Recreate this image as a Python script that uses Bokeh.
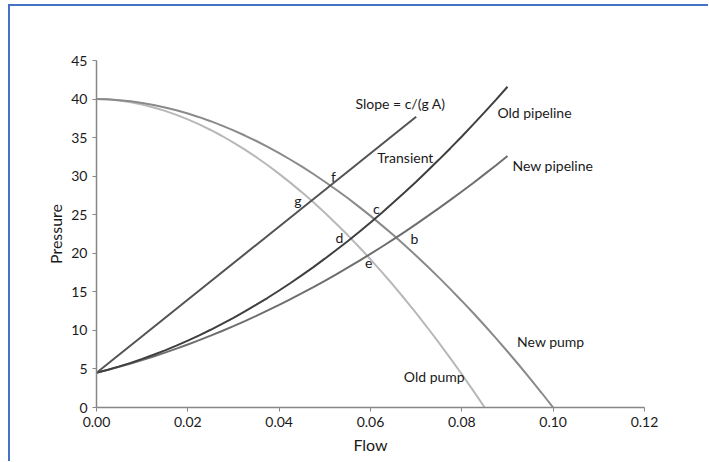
from bokeh.plotting import figure
from bokeh.models import Range1d, FixedTicker, NumeralTickFormatter, Label
from bokeh.embed import file_html
from bokeh.resources import INLINE

# ---- data ----
new_pump_flow = [0.0000, 0.0025, 0.0050, 0.0075, 0.0100, 0.0125, 0.0150, 0.0175, 0.0200, 0.0225,
                 0.0250, 0.0275, 0.0300, 0.0325, 0.0350, 0.0375, 0.0400, 0.0425, 0.0450, 0.0475,
                 0.0500, 0.0525, 0.0550, 0.0575, 0.0600, 0.0625, 0.0650, 0.0675, 0.0700, 0.0725,
                 0.0750, 0.0775, 0.0800, 0.0825, 0.0850, 0.0875, 0.0900, 0.0925, 0.0950, 0.0975,
                 0.1000]
new_pump = [40.00, 39.96, 39.86, 39.71, 39.50, 39.23, 38.91, 38.54, 38.12, 37.65,
            37.13, 36.56, 35.94, 35.27, 34.56, 33.79, 32.99, 32.13, 31.23, 30.28,
            29.28, 28.24, 27.16, 26.02, 24.85, 23.62, 22.36, 21.04, 19.69, 18.29,
            16.84, 15.35, 13.82, 12.25, 10.63, 8.96, 7.26, 5.51, 3.72, 1.88,
            0.00]

old_pump_flow = new_pump_flow[:35]
old_pump = [40.00, 39.95, 39.81, 39.58, 39.28, 38.91, 38.47, 37.95, 37.37, 36.71,
            35.99, 35.21, 34.35, 33.44, 32.46, 31.41, 30.30, 29.13, 27.90, 26.61,
            25.25, 23.83, 22.36, 20.82, 19.22, 17.56, 15.85, 14.07, 12.24, 10.34,
            8.39, 6.38, 4.31, 2.19, 0.00]

pipe_flow = new_pump_flow[:37]
old_pipeline = [4.50, 4.89, 5.33, 5.79, 6.30, 6.84, 7.41, 8.02, 8.67, 9.36,
                10.08, 10.84, 11.63, 12.46, 13.33, 14.23, 15.17, 16.15, 17.16, 18.21,
                19.30, 20.42, 21.57, 22.77, 24.00, 25.27, 26.57, 27.91, 29.28, 30.70,
                32.15, 33.63, 35.15, 36.71, 38.30, 39.93, 41.60]
new_pipeline = [4.50, 4.88, 5.28, 5.70, 6.15, 6.62, 7.11, 7.63, 8.17, 8.73,
                9.32, 9.92, 10.55, 11.21, 11.89, 12.59, 13.31, 14.06, 14.83, 15.62,
                16.43, 17.27, 18.13, 19.02, 19.92, 20.85, 21.81, 22.78, 23.78, 24.81,
                25.85, 26.92, 28.01, 29.12, 30.26, 31.42, 32.61]

transient_flow = [0.0, 0.070]
transient = [4.5, 37.7]

x_ticks = [0.0, 0.02, 0.04, 0.06, 0.08, 0.10, 0.12]
y_ticks = [0, 5, 10, 15, 20, 25, 30, 35, 40, 45]

annotations = [
    ("Slope = c/(g A)", 0.0567, 39.4),
    ("Old pipeline", 0.0878, 38.2),
    ("Transient", 0.0615, 32.4),
    ("New pipeline", 0.0911, 31.4),
    ("New pump", 0.0921, 8.5),
    ("Old pump", 0.0673, 4.0),
]
points = [
    ("f", 0.0519, 30.0),
    ("g", 0.0441, 26.8),
    ("c", 0.0613, 25.8),
    ("d", 0.0532, 22.0),
    ("b", 0.0696, 21.9),
    ("e", 0.0596, 18.7),
]

FONT = "Lato"
AXIS_GRAY = "#868686"
TEXT = "#1a1a1a"

p = figure(width=700, height=457, output_backend="svg", toolbar_location=None,
           x_range=Range1d(0, 0.12), y_range=Range1d(0, 45),
           min_border_left=86, min_border_right=66, min_border_top=54, min_border_bottom=56)
p.styles = {"margin-left": "8px", "margin-top": "4px",
            "border-left": "2px solid #4472C4", "border-top": "2px solid #4472C4"}

p.background_fill_color = "white"
p.border_fill_color = "white"
p.outline_line_color = None
p.grid.visible = False

p.line(old_pump_flow, old_pump, line_color="#b8b8b8", line_width=2)
p.line(new_pump_flow, new_pump, line_color="#8a8a8a", line_width=2)
p.line(pipe_flow, new_pipeline, line_color="#6e6e6e", line_width=2)
p.line(pipe_flow, old_pipeline, line_color="#3f3f3f", line_width=2)
p.line(transient_flow, transient, line_color="#525252", line_width=2)

for ax in (p.xaxis[0], p.yaxis[0]):
    ax.axis_line_color = AXIS_GRAY
    ax.axis_line_width = 1.5
    ax.major_tick_line_color = AXIS_GRAY
    ax.major_tick_out = 4
    ax.major_tick_in = 0
    ax.minor_tick_line_color = None
    ax.major_label_text_font = FONT
    ax.major_label_text_font_size = "14px"
    ax.major_label_text_color = TEXT
    ax.axis_label_text_font = FONT
    ax.axis_label_text_font_size = "16px"
    ax.axis_label_text_font_style = "normal"
    ax.axis_label_text_color = TEXT

p.xaxis.ticker = FixedTicker(ticks=x_ticks)
p.xaxis.formatter = NumeralTickFormatter(format="0.00")
p.xaxis.axis_label = "Flow"
p.xaxis.major_label_standoff = 5
p.xaxis.axis_label_standoff = 5
p.yaxis.ticker = FixedTicker(ticks=y_ticks)
p.yaxis.axis_label = "Pressure"
p.yaxis.major_label_standoff = 5
p.yaxis.axis_label_standoff = 3

for txt, x, y in annotations:
    p.add_layout(Label(x=x, y=y, text=txt, text_font=FONT, text_font_size="14px",
                       text_color=TEXT, text_baseline="middle", text_align="left"))
for txt, x, y in points:
    p.add_layout(Label(x=x, y=y, text=txt, text_font=FONT, text_font_size="14px",
                       text_color=TEXT, text_baseline="middle", text_align="center"))

open("out.html", "w").write(file_html(p, INLINE))
